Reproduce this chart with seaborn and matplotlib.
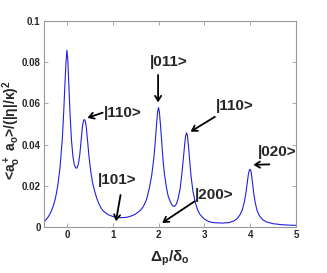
import matplotlib
matplotlib.use("Agg")
import matplotlib.pyplot as plt
import seaborn as sns

# probe detuning (Delta_p / delta_o) and normalised photon number
delta = [-0.5, -0.45, -0.4, -0.35, -0.3, -0.25, -0.2, -0.15, -0.1, -0.07, -0.04, -0.02, 0.0,
         0.02, 0.04, 0.07, 0.1, 0.13, 0.16, 0.19, 0.22, 0.25, 0.28, 0.31, 0.34, 0.36, 0.38,
         0.40, 0.42, 0.45, 0.48, 0.52, 0.56, 0.6, 0.65, 0.7, 0.75, 0.8, 0.9, 1.0, 1.1, 1.2,
         1.3, 1.4, 1.5, 1.6, 1.67, 1.74, 1.8, 1.85, 1.9, 1.93, 1.96, 1.98, 2.0, 2.02, 2.04,
         2.07, 2.1, 2.13, 2.17, 2.21, 2.26, 2.31, 2.35, 2.39, 2.43, 2.47, 2.51, 2.54, 2.57,
         2.59, 2.61, 2.63, 2.65, 2.68, 2.71, 2.75, 2.8, 2.85, 2.9, 3.0, 3.1, 3.2, 3.4, 3.55,
         3.65, 3.72, 3.78, 3.83, 3.87, 3.9, 3.93, 3.96, 3.98, 4.0, 4.02, 4.05, 4.08, 4.11,
         4.15, 4.2, 4.27, 4.35, 4.5, 4.7, 4.85, 5.0]
occupation = [0.0026, 0.0037, 0.0052, 0.0072, 0.0100, 0.0140, 0.0200, 0.0290, 0.0430, 0.0560,
              0.0710, 0.0800, 0.0858, 0.0810, 0.0700, 0.0540, 0.0420, 0.0345, 0.0303, 0.0287,
              0.0286, 0.0305, 0.0350, 0.0420, 0.0490, 0.0515, 0.0522, 0.0515, 0.0490, 0.0420,
              0.0345, 0.0270, 0.0215, 0.0178, 0.0140, 0.0112, 0.0090, 0.0076, 0.0060, 0.0051,
              0.0046, 0.0045, 0.0047, 0.0053, 0.0063, 0.0080, 0.0100, 0.0135, 0.0190, 0.0250,
              0.0340, 0.0420, 0.0510, 0.0560, 0.0580, 0.0555, 0.0500, 0.0410, 0.0320, 0.0255,
              0.0195, 0.0150, 0.0120, 0.0102, 0.0100, 0.0112, 0.0140, 0.0185, 0.0260, 0.0330,
              0.0400, 0.0440, 0.0457, 0.0445, 0.0400, 0.0320, 0.0245, 0.0175, 0.0120, 0.0085,
              0.0062, 0.0038, 0.0026, 0.0021, 0.0019, 0.0022, 0.0030, 0.0042, 0.0060, 0.0085,
              0.0120, 0.0155, 0.0205, 0.0255, 0.0275, 0.0280, 0.0268, 0.0215, 0.0160, 0.0118,
              0.0080, 0.0055, 0.0036, 0.0025, 0.0016, 0.0011, 0.0009, 0.0008]

# state labels: text anchor (x, y) and arrow tip (x, y)
labels = ["|110>", "|101>", "|011>", "|110>", "|200>", "|020>"]
text_xy = [(0.80, 0.0553), (0.68, 0.0228), (1.81, 0.0800), (3.25, 0.0587), (2.79, 0.0155), (4.17, 0.0364)]
arrow_from = [(0.78, 0.0555), (1.17, 0.0155), (1.99, 0.0738), (3.23, 0.0535), (2.79, 0.0125), (4.42, 0.0304)]
arrow_to = [(0.45, 0.0530), (1.07, 0.0028), (1.99, 0.0605), (2.70, 0.0463), (2.08, 0.0020), (4.07, 0.0302)]

sns.set_style("ticks")
plt.rcParams["font.family"] = ["Liberation Sans", "DejaVu Sans"]
plt.rcParams["font.weight"] = "bold"
plt.rcParams["mathtext.fontset"] = "custom"
plt.rcParams["mathtext.rm"] = "Liberation Sans:bold"
plt.rcParams["mathtext.it"] = "Liberation Sans:bold"
plt.rcParams["mathtext.bf"] = "Liberation Sans:bold"

fig = plt.figure(figsize=(3.27, 2.73), dpi=100)
ax = fig.add_axes([0.1346, 0.1685, 0.7706, 0.7545])

sns.lineplot(x=delta, y=occupation, ax=ax, color="#2020e0", linewidth=0.8,
             estimator=None, sort=False)

ax.set_xlim(-0.5, 5)
ax.set_ylim(0, 0.1)
ax.set_xticks([0, 1, 2, 3, 4, 5])
ax.set_yticks([0, 0.02, 0.04, 0.06, 0.08, 0.1])
ax.set_yticklabels(["0", "0.02", "0.04", "0.06", "0.08", "0.1"])
ax.tick_params(direction="in", length=3, width=0.6, color="#999999",
               top=True, right=True, labelsize=7, pad=2.5)
for lab in ax.get_xticklabels() + ax.get_yticklabels():
    lab.set_fontweight("bold")
for sp in ax.spines.values():
    sp.set_visible(True)
    sp.set_color("#999999")
    sp.set_linewidth(0.8)

ax.set_xlabel(r"$\Delta_p/\delta_o$", fontsize=11)
ax.xaxis.set_label_coords(0.5, -0.105)
ax.set_ylabel(r"<a$_o^+$ a$_o$>/(|η|/κ)$^2$", fontsize=10, fontweight="bold")
ax.yaxis.set_label_coords(-0.085, 0.47)

for lab, (tx, ty), (fx, fy), (hx, hy) in zip(labels, text_xy, arrow_from, arrow_to):
    ax.text(tx, ty, lab, fontsize=11, fontweight="bold", ha="left", va="center")
    ax.annotate("", xy=(hx, hy), xytext=(fx, fy),
                arrowprops=dict(arrowstyle="->,head_width=0.22,head_length=0.35",
                                lw=1.3, color="black", shrinkA=0, shrinkB=0))

fig.savefig("out.png", dpi=100)
